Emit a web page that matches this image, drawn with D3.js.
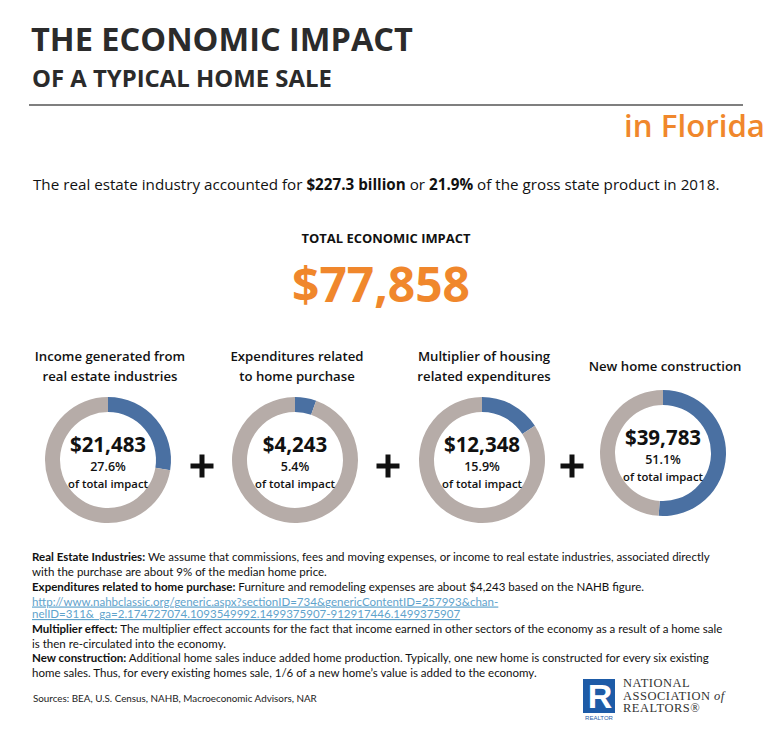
<!DOCTYPE html>
<html><head><meta charset="utf-8">
<script src="https://cdn.jsdelivr.net/npm/d3@7"></script>
<style>body{margin:0;background:#fff}</style>
</head><body><svg id="c" width="782" height="744"></svg>
<script>
// ---- data ----
const categories = [
  ["Income generated from", "real estate industries"],
  ["Expenditures related", "to home purchase"],
  ["Multiplier of housing", "related expenditures"],
  ["New home construction"]
];
const impactValues = [21483, 4243, 12348, 39783];
const shareLabels = ["27.6%", "5.4%", "15.9%", "51.1%"];
const totalImpact = 77858;
const industryBillions = "$227.3 billion";
const industryShare = "21.9%";
const stateName = "Florida";
const dataYear = 2018;

// ---- layout ----
const centersX = [108, 295, 482, 663];
const centersY = [460, 460, 460, 453];
const plusX = [202, 388, 572];
const BLUE = "#4a70a2", GREY = "#b6aca8", ORANGE = "#f0872c", DARK = "#2b2b2b";
const F = "'Open Sans', sans-serif";
const FN = "Lato, 'Open Sans', sans-serif";

const svg = d3.select("#c");
function fit(t, w) {
  const l = t.node().getComputedTextLength();
  const fs = parseFloat(t.attr("font-size"));
  t.attr("font-size", fs * w / l);
  return fs * w / l;
}

// header
fit(svg.append("text").attr("x", 31).attr("y", 51).attr("font-family", F).attr("font-weight", 700)
  .attr("font-size", 36).attr("fill", DARK).text("THE ECONOMIC IMPACT"), 382);
fit(svg.append("text").attr("x", 32).attr("y", 87).attr("font-family", F).attr("font-weight", 700)
  .attr("font-size", 22).attr("fill", DARK).text("OF A TYPICAL HOME SALE"), 300);
svg.append("line").attr("x1", 29).attr("x2", 743).attr("y1", 105).attr("y2", 105)
  .attr("stroke", "#555").attr("stroke-width", 1.5);
const fl = svg.append("text").attr("x", 765).attr("y", 137).attr("text-anchor", "end").attr("font-family", F)
  .attr("font-weight", 600).attr("font-size", 24).attr("fill", ORANGE).text("in " + stateName);
fit(fl, 141);

const intro = svg.append("text").attr("x", 33).attr("y", 190).attr("font-family", F).attr("font-size", 15).attr("fill", "#111");
intro.append("tspan").text("The real estate industry accounted for ");
intro.append("tspan").attr("font-weight", 700).text(industryBillions);
intro.append("tspan").text(" or ");
intro.append("tspan").attr("font-weight", 700).text(industryShare);
intro.append("tspan").text(" of the gross state product in " + dataYear + ".");
fit(intro, 687);

const tt = svg.append("text").attr("x", 386).attr("y", 243).attr("text-anchor", "middle").attr("font-family", F)
  .attr("font-weight", 700).attr("font-size", 13).attr("fill", "#111").text("TOTAL ECONOMIC IMPACT");
fit(tt, 169);
const tv = svg.append("text").attr("x", 381).attr("y", 302).attr("text-anchor", "middle").attr("font-family", F)
  .attr("font-weight", 700).attr("font-size", 50).attr("fill", ORANGE).text(d3.format("$,")(totalImpact));
fit(tv, 178);

// donuts
const pie = d3.pie().sort(null).value(d => d);
const arc = d3.arc().innerRadius(48).outerRadius(63);
const g = svg.selectAll("g.donut").data(impactValues).join("g").attr("class", "donut")
  .attr("transform", (d, i) => `translate(${centersX[i]},${centersY[i]})`);
g.selectAll("path").data(d => pie([d, totalImpact - d])).join("path")
  .attr("d", arc).attr("fill", (d, i) => i === 0 ? BLUE : GREY);
g.append("text").attr("y", -8).attr("text-anchor", "middle").attr("font-family", F).attr("font-weight", 700)
  .attr("font-size", 20.5).attr("fill", "#111").text(d => d3.format("$,")(d));
g.append("text").attr("y", 11).attr("text-anchor", "middle").attr("font-family", F).attr("font-weight", 600)
  .attr("font-size", 12.5).attr("fill", "#111").text((d, i) => shareLabels[i]);
g.append("text").attr("y", 28).attr("text-anchor", "middle").attr("font-family", F).attr("font-weight", 600)
  .attr("font-size", 11.3).attr("fill", "#111").text("of total impact");

// titles
categories.forEach((lines, i) => {
  const t = svg.append("text").attr("text-anchor", "middle").attr("font-family", F).attr("font-weight", 600)
    .attr("font-size", 13.2).attr("fill", "#111");
  const y0 = lines.length === 1 ? 371 : 361;
  lines.forEach((l, k) => t.append("tspan").attr("x", centersX[i] + 2).attr("y", y0 + k * 20).text(l));
});

// plus signs
plusX.forEach(x => {
  svg.append("line").attr("x1", x - 11.5).attr("x2", x + 11.5).attr("y1", 466).attr("y2", 466).attr("stroke", "#111").attr("stroke-width", 5);
  svg.append("line").attr("x1", x).attr("x2", x).attr("y1", 454.5).attr("y2", 477.5).attr("stroke", "#111").attr("stroke-width", 5);
});

// footnotes
const notes = [
  [["b", "Real Estate Industries:"], ["", " We assume that commissions, fees and moving expenses, or income to real estate industries, associated directly"]],
  [["", "with the purchase are about 9% of the median home price."]],
  [["b", "Expenditures related to home purchase:"], ["", " Furniture and remodeling expenses are about $4,243 based on the NAHB figure."]],
  [["a", "http://www.nahbclassic.org/generic.aspx?sectionID=734&genericContentID=257993&chan-"]],
  [["a", "nelID=311&_ga=2.174727074.1093549992.1499375907-912917446.1499375907"]],
  [["b", "Multiplier effect:"], ["", " The multiplier effect accounts for the fact that income earned in other sectors of the economy as a result of a home sale"]],
  [["", "is then re-circulated into the economy."]],
  [["b", "New construction:"], ["", " Additional home sales induce added home production. Typically, one new home is constructed for every six existing"]],
  [["", "home sales. Thus, for every existing homes sale, 1/6 of a new home\u2019s value is added to the economy."]]
];
const noteY = [561, 576, 591, 605.5, 618, 633, 647.5, 662, 677];
const noteEls = notes.map((parts, i) => {
  const t = svg.append("text").attr("x", 32).attr("y", noteY[i]).attr("font-family", FN).attr("font-size", 11).attr("fill", "#111");
  parts.forEach(([k, s]) => {
    const sp = t.append("tspan").text(s);
    if (k === "b") sp.attr("font-weight", 700);
    if (k === "a") sp.attr("fill", "#5fa3cc").attr("text-decoration", "underline");
  });
  return t;
});
const nfs = fit(noteEls[5], 691);
noteEls.forEach(t => t.attr("font-size", nfs));

const src = svg.append("text").attr("x", 33).attr("y", 702).attr("font-family", FN).attr("font-size", 9.5)
  .attr("fill", "#222").text("Sources: BEA, U.S. Census, NAHB, Macroeconomic Advisors, NAR");
fit(src, 284);

// logo
const LB = "#1d5ba7";
svg.append("rect").attr("x", 583).attr("y", 679).attr("width", 32).attr("height", 34).attr("fill", LB);
svg.append("text").attr("x", 600).attr("y", 708).attr("text-anchor", "middle").attr("font-family", "'Liberation Sans', Arial, sans-serif")
  .attr("font-weight", 700).attr("font-size", 34).attr("fill", "#fff").text("R");
svg.append("text").attr("x", 599).attr("y", 720).attr("text-anchor", "middle").attr("font-family", "'Liberation Sans', sans-serif")
  .attr("font-size", 6).attr("fill", LB).text("REALTOR");
const serif = "'Liberation Serif', 'DejaVu Serif', serif";
svg.append("text").attr("x", 623).attr("y", 687).attr("font-family", serif).attr("font-size", 12.5).attr("fill", "#333").attr("letter-spacing", 0.5).text("NATIONAL");
const a2 = svg.append("text").attr("x", 623).attr("y", 699.5).attr("font-family", serif).attr("font-size", 12.5).attr("fill", "#333").attr("letter-spacing", 0.5);
a2.append("tspan").text("ASSOCIATION ");
a2.append("tspan").attr("font-style", "italic").text("of");
svg.append("text").attr("x", 623).attr("y", 712).attr("font-family", serif).attr("font-size", 12.5).attr("fill", "#333").attr("letter-spacing", 0.5).text("REALTORS\u00AE");
</script></body></html>
